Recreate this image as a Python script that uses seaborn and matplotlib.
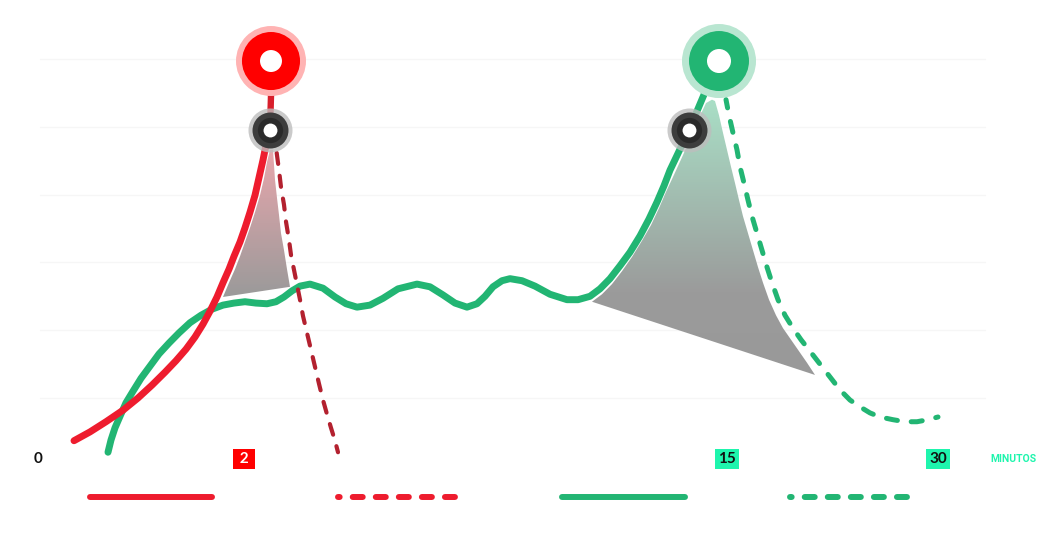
import numpy as np
import seaborn as sns
import matplotlib.pyplot as plt
from matplotlib.patches import Polygon
from matplotlib.colors import LinearSegmentedColormap

# --- data (x = timeline position, y = level) ---
red_x = [74, 90, 106, 123, 138, 152, 165, 176, 186, 195, 203, 210, 217, 223, 229, 234, 240,
         245, 250, 255, 259, 263, 266, 268, 270]
red_y = [-0.63, -0.50, -0.35, -0.18, 0.00, 0.19, 0.38, 0.55, 0.72, 0.90, 1.09, 1.28, 1.49, 1.70,
         1.90, 2.09, 2.30, 2.51, 2.74, 2.99, 3.25, 3.51, 3.73, 3.88, 3.95]
red_link_x = [270, 272]
red_link_y = [3.95, 4.97]

red_dash_x = [275, 277, 279, 281, 284, 286, 289, 291, 294, 297, 300, 303, 307, 311, 315, 319,
              323, 327, 331, 335, 338]
red_dash_y = [3.81, 3.58, 3.36, 3.11, 2.85, 2.60, 2.33, 2.11, 1.89, 1.67, 1.45, 1.21, 0.96, 0.71,
              0.46, 0.21, -0.03, -0.24, -0.44, -0.63, -0.80]

green_x = [108, 111, 115, 120, 126, 133, 141, 150, 159, 169, 179, 190, 201, 212, 223, 234, 245,
           256, 267, 276, 284, 292, 300, 310, 323, 335, 346, 357, 370, 383, 398, 417, 430, 443,
           455, 467, 477, 485, 493, 502, 510, 522, 535, 550, 567, 578, 590, 600, 610, 620, 630,
           640, 649, 657, 664, 670, 680, 689, 697, 705, 712, 719]
green_y = [-0.80, -0.62, -0.44, -0.27, -0.07, 0.10, 0.29, 0.47, 0.65, 0.81, 0.96, 1.11, 1.22,
           1.31, 1.37, 1.40, 1.42, 1.40, 1.39, 1.42, 1.49, 1.58, 1.65, 1.68, 1.62, 1.49, 1.39,
           1.34, 1.37, 1.47, 1.61, 1.68, 1.64, 1.52, 1.40, 1.34, 1.39, 1.50, 1.64, 1.73, 1.76,
           1.73, 1.65, 1.53, 1.45, 1.45, 1.50, 1.61, 1.76, 1.95, 2.15, 2.39, 2.64, 2.89, 3.13,
           3.36, 3.67, 3.95, 4.23, 4.51, 4.75, 4.97]

green_dash_x = [726, 729, 733, 737, 740, 744, 748, 752, 757, 762, 767, 772, 778, 785, 793, 801,
                810, 820, 830, 840, 850, 860, 870, 880, 893, 905, 917, 928, 938]
green_dash_y = [4.40, 4.17, 3.91, 3.66, 3.41, 3.17, 2.92, 2.68, 2.43, 2.18, 1.93, 1.70, 1.45,
                1.22, 1.03, 0.86, 0.69, 0.50, 0.31, 0.12, -0.03, -0.13, -0.22, -0.28, -0.32,
                -0.35, -0.35, -0.32, -0.28]

red_area_x = [223, 229, 235, 240, 245, 250, 255, 260, 264, 267, 270,
              273, 274, 275, 277, 279, 281, 284, 287, 290]
red_area_y = [1.49, 1.70, 1.90, 2.09, 2.30, 2.51, 2.74, 2.99, 3.24, 3.48, 3.66,
              3.66, 3.44, 3.22, 2.95, 2.70, 2.43, 2.18, 1.90, 1.64]

green_area_x = [592, 602, 612, 622, 632, 642, 651, 659, 666, 673, 682, 691, 699, 706, 712,
                715, 719, 723, 727, 731, 735, 739, 743, 748, 753, 758, 763, 769, 776, 783, 791,
                799, 807, 815]
green_area_y = [1.42, 1.53, 1.68, 1.87, 2.08, 2.32, 2.55, 2.80, 3.04, 3.26, 3.55, 3.85, 4.13,
                4.35, 4.40, 4.38, 4.17, 3.91, 3.66, 3.41, 3.17, 2.92, 2.68, 2.43, 2.18, 1.93,
                1.70, 1.45, 1.22, 1.03, 0.86, 0.69, 0.52, 0.34]

peak_x = [271, 719]
peak_y = [4.97, 4.97]
peak_colors = ["#ff0000", "#22b573"]
peak_halos = ["#ffb3b3", "#b9e6d1"]
knot_x = [270, 689]
knot_y = [3.95, 3.95]

tick_x = [38, 244, 727, 938]
tick_labels = ["0", " 2 ", "15", "30"]
tick_bg = [None, "#ff0000", "#1ef5ad", "#1ef5ad"]
tick_fg = ["#111111", "white", "#111111", "#111111"]
tick_y = -0.90

legend_x = [(90, 212), (338, 462), (562, 685), (790, 913)]
legend_colors = ["#ee1c2e", "#ee1c2e", "#22b573", "#22b573"]
legend_dashed = [False, True, False, True]
legend_y = -1.46

grid_levels = [0, 1, 2, 3, 4, 5]

RED = "#ee1c2e"
DARK_RED = "#b3212f"
GREEN = "#22b573"

sns.set_theme(style="white")
plt.rcParams["lines.scale_dashes"] = False
plt.rcParams["font.family"] = ["Lato", "DejaVu Sans"]

fig = plt.figure(figsize=(10.48, 5.57), dpi=100)
ax = fig.add_axes([0, 0, 1, 1])


def gradient_area(xs, ys, stops):
    poly = Polygon(np.column_stack([xs, ys]), closed=True, facecolor="none", edgecolor="none")
    ax.add_patch(poly)
    cmap = LinearSegmentedColormap.from_list("g", stops)
    grad = np.linspace(0, 1, 256).reshape(-1, 1)
    im = ax.imshow(grad, extent=[min(xs), max(xs), min(ys), max(ys)], origin="lower",
                   cmap=cmap, aspect="auto", zorder=1, interpolation="bilinear")
    im.set_clip_path(poly)


for lv in grid_levels:
    ax.plot([40, 985], [lv, lv], color="#f6f6f6", lw=1, zorder=0)

gradient_area(red_area_x, red_area_y, [(0, "#9a9a9a"), (1, "#e8a6ac")])
gradient_area(green_area_x, green_area_y, [(0, "#999999"), (0.3, "#9b9b9b"), (1, "#a9dfc6")])

sns.lineplot(x=green_x, y=green_y, sort=False, color=GREEN, lw=5, ax=ax, zorder=3,
             solid_capstyle="round", solid_joinstyle="round")
sns.lineplot(x=red_x, y=red_y, sort=False, color=RED, lw=5, ax=ax, zorder=4,
             solid_capstyle="round", solid_joinstyle="round")
sns.lineplot(x=red_link_x, y=red_link_y, sort=False, color="#d81e2b", lw=4.6, ax=ax, zorder=4)
sns.lineplot(x=red_dash_x, y=red_dash_y, sort=False, color=DARK_RED, lw=3.0, ax=ax, zorder=5,
             linestyle=(7, (8.0, 8.6)), dash_capstyle="round")
sns.lineplot(x=green_dash_x, y=green_dash_y, sort=False, color=GREEN, lw=3.6, ax=ax, zorder=5,
             linestyle=(2, (8.0, 10.0)), dash_capstyle="round")

# peak markers
ax.scatter(peak_x, peak_y, s=[2540, 2840], c=peak_halos, zorder=6, linewidths=0)
ax.scatter(peak_x, peak_y, s=[1747, 1866], c=peak_colors, zorder=7, linewidths=0)
ax.scatter(peak_x, peak_y, s=[250, 299], c="white", zorder=8, linewidths=0)

# knot markers
ax.scatter(knot_x, knot_y, s=1004, c="#bdbdbd", alpha=0.8, zorder=6, linewidths=0)
ax.scatter(knot_x, knot_y, s=671, c="#3d3d3d", zorder=7, linewidths=0)
ax.scatter(knot_x, knot_y, s=330, c="#2a2a2a", zorder=7, linewidths=0)
ax.scatter(knot_x, knot_y, s=100, c="white", zorder=8, linewidths=0)

for x, lab, bg, fg in zip(tick_x, tick_labels, tick_bg, tick_fg):
    bbox = None if bg is None else dict(boxstyle="square,pad=0.18", fc=bg, ec="none")
    ax.text(x, tick_y, lab, ha="center", va="center", fontsize=11, fontweight="bold",
            color=fg, bbox=bbox, zorder=9)
ax.text(1013, tick_y, "MINUTOS", ha="center", va="center", fontsize=7.5, fontweight="bold",
        color="#1ef5ad", family=["Roboto", "DejaVu Sans"])

for (x0, x1), c, dashed in zip(legend_x, legend_colors, legend_dashed):
    if dashed:
        sns.lineplot(x=[x0, x1], y=[legend_y, legend_y], color=c, lw=4.3, ax=ax,
                     linestyle=(6, (7.2, 9.4)), dash_capstyle="round")
    else:
        sns.lineplot(x=[x0, x1], y=[legend_y, legend_y], color=c, lw=4.3, ax=ax,
                     solid_capstyle="round")

ax.set_xlim(0, 1048)
ax.set_ylim(-2.345, 5.87)
ax.axis("off")

fig.savefig("out.png", dpi=100, facecolor="white")
